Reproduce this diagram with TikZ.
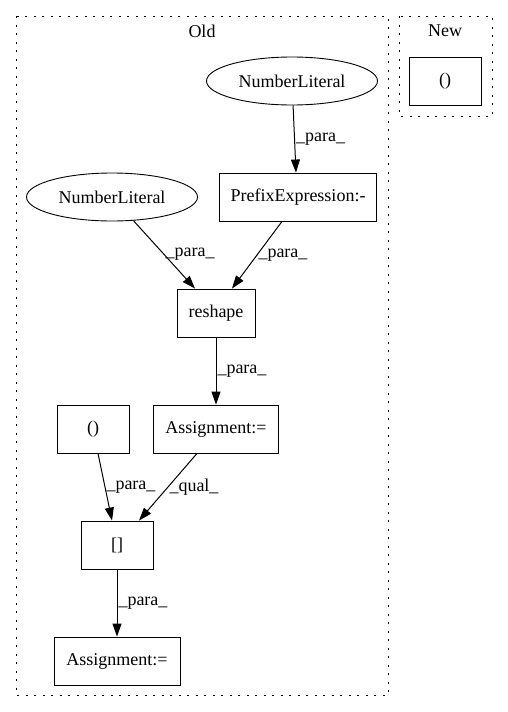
\documentclass[tikz,border=0pt]{standalone}
\usepackage{fontspec}
\setmainfont{Liberation Serif}
\usetikzlibrary{shapes.geometric,arrows.meta}
\newcommand{\lien}[3]{\draw[fleche] (#1) -- node[etiq]{#3} (#2);}
\tikzset{
		basic/.style={draw, line width=0.9pt, minimum height=48pt, inner sep=0pt, align=center},
		boite/.style={basic, rectangle, minimum width=72pt},
		ovale/.style={basic, ellipse, minimum width=171pt},
		groupe/.style={draw, line width=1pt, dash pattern=on 2pt off 6.5pt},
		fleche/.style={-{Triangle[length=13pt,width=9pt]}, line width=1pt},
		etiq/.style={right, inner sep=1pt}
	}
\begin{document}
\begin{tikzpicture}[x=1pt,y=-1pt]
		\fontsize{18}{20} \selectfont
		\useasboundingbox (0,0) rectangle (508,712);
		% groupes
		\draw[groupe] (16,16) rectangle (388,695);
		\draw[groupe] (399,16) rectangle (492,116);
		\node (titrold) at (202,31) {Old};
		\node (titrnew) at (445,31) {New};
		% noeuds
		\node[ovale] (numblit1) at (292,81) {NumberLiteral};
		\node[boite, minimum width=157pt] (prefexpr) at (298,197) {PrefixExpression:-};
		\node[ovale] (numblit2) at (112,197) {NumberLiteral};
		\node[boite, minimum width=78pt] (reshape) at (216,313) {reshape};
		\node[boite, minimum width=125pt] (assign1) at (216,429) {Assignment:=};
		\node[boite] (parenth1) at (93,429) {()};
		\node[boite] (crochets) at (117,545) {[]};
		\node[boite, minimum width=126pt] (assign2) at (117,661) {Assignment:=};
		\node[boite] (parenth2) at (445,81) {()};
		% liens
		\lien{numblit1}{[xshift=-2pt]prefexpr.north}{\_para\_}
		\lien{numblit2}{[xshift=-21pt]reshape.north}{\_para\_}
		\lien{[xshift=-16pt]prefexpr.south}{[xshift=16pt]reshape.north}{\_para\_}
		\lien{reshape}{assign1}{\_para\_}
		\lien{[xshift=5pt]parenth1.south}{[xshift=-5pt]crochets.north}{\_para\_}
		\lien{[xshift=-19pt]assign1.south}{[xshift=22pt]crochets.north}{\_qual\_}
		\lien{crochets}{assign2}{\_para\_}
	\end{tikzpicture}
\end{document}
